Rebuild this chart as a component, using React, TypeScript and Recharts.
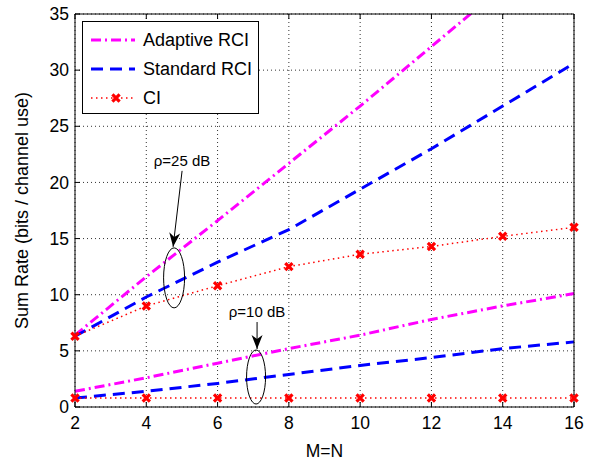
import React from 'react';
import { LineChart, Line, XAxis, YAxis, CartesianGrid, ReferenceDot } from 'recharts';

const mValues = [2, 4, 6, 8, 10, 12, 14, 16];
const adaptive25 = [6.4, 11.6, 16.6, 21.7, 26.8, 32.1, 37.4, 42.6];
const standard25 = [6.3, 9.8, 12.9, 15.8, 19.4, 23.0, 26.8, 30.6];
const ci25 = [6.3, 9.0, 10.8, 12.5, 13.6, 14.3, 15.2, 16.0];
const adaptive10 = [1.4, 2.6, 3.9, 5.2, 6.4, 7.8, 9.0, 10.1];
const standard10 = [0.8, 1.4, 2.1, 2.9, 3.7, 4.4, 5.2, 5.8];
const ci10 = [0.8, 0.8, 0.8, 0.8, 0.8, 0.8, 0.8, 0.8];
const yTicks = [0, 5, 10, 15, 20, 25, 30, 35];

const legendItems = ['Adaptive RCI', 'Standard RCI', 'CI'];
const annot25 = { x: 4.78, y: 11.5, label: 'ρ=25 dB' };
const annot10 = { x: 7.08, y: 2.67, label: 'ρ=10 dB' };

const rows = mValues.map((m, i) => ({
  m,
  a25: adaptive25[i],
  s25: standard25[i],
  c25: ci25[i],
  a10: adaptive10[i],
  s10: standard10[i],
  c10: ci10[i],
}));

const FONT = '"Liberation Sans", Arial, Helvetica, sans-serif';
const MAGENTA = '#ff00ff';
const BLUE = '#0000ff';
const RED = '#ff0000';
const DASHDOT = '10 4 2 4';
const DASHED = '12 7';
const DOTTED = '1.5 3.5';

const XMark = (props: any) => {
  const { cx, cy } = props;
  if (cx == null || cy == null) return <g />;
  const s = 3.6;
  return (
    <path
      key={`x-${cx}-${cy}`}
      d={`M${cx - s},${cy - s}L${cx + s},${cy + s}M${cx - s},${cy + s}L${cx + s},${cy - s}`}
      stroke={RED}
      strokeWidth={3.2}
      fill="none"
    />
  );
};

function arrowHead(tx: number, ty: number, sx: number, sy: number) {
  const ang = Math.atan2(ty - sy, tx - sx);
  const L = 14, W = 5.5, N = 10;
  const pts = [
    [0, 0],
    [-L, -W],
    [-N, 0],
    [-L, W],
  ].map(([px, py]) => [
    tx + px * Math.cos(ang) - py * Math.sin(ang),
    ty + px * Math.sin(ang) + py * Math.cos(ang),
  ]);
  return `M${pts.map((p) => p[0].toFixed(2) + ',' + p[1].toFixed(2)).join('L')}Z`;
}

const makeAnnotation = (
  label: string,
  rx: number,
  ry: number,
  tip: [number, number],
  start: [number, number],
  textPos: [number, number]
) => (props: any) => {
  const { cx, cy } = props;
  if (cx == null || cy == null) return <g />;
  const tx = cx + tip[0], ty = cy + tip[1];
  const sx = cx + start[0], sy = cy + start[1];
  return (
    <g>
      <ellipse cx={cx} cy={cy} rx={rx} ry={ry} fill="none" stroke="#000" strokeWidth={1} />
      <line x1={sx} y1={sy} x2={tx} y2={ty} stroke="#000" strokeWidth={1} />
      <path d={arrowHead(tx, ty, sx, sy)} fill="#000" />
      <text
        x={cx + textPos[0]}
        y={cy + textPos[1]}
        textAnchor="middle"
        fontFamily={FONT}
        fontSize={15}
        fill="#000"
      >
        {label}
      </text>
    </g>
  );
};

const Legend = () => (
  <div
    style={{
      position: 'absolute',
      left: 82,
      top: 21,
      width: 175,
      height: 91,
      border: '1px solid #000',
      background: '#fff',
    }}
  >
    <svg width={175} height={91} style={{ display: 'block' }}>
      <line x1={8} y1={18} x2={52} y2={18} stroke={MAGENTA} strokeWidth={3} strokeDasharray={DASHDOT} />
      <line x1={8} y1={47} x2={52} y2={47} stroke={BLUE} strokeWidth={3} strokeDasharray={DASHED} />
      <line x1={8} y1={76} x2={50} y2={76} stroke={RED} strokeWidth={1.5} strokeDasharray={DOTTED} />
      <path d="M29.4,72.4L36.6,79.6M29.4,79.6L36.6,72.4" stroke={RED} strokeWidth={3.2} />
      {legendItems.map((t, i) => (
        <text
          key={t}
          x={60}
          y={18 + i * 29}
          dominantBaseline="central"
          fontFamily={FONT}
          fontSize={18}
          fill="#000"
        >
          {t}
        </text>
      ))}
    </svg>
  </div>
);

const tickStyle = { fontFamily: FONT, fontSize: 17.5, fill: '#000' };

export default function App() {
  return (
    <div style={{ position: 'absolute', left: 0, top: 0, width: 597, height: 462, background: '#fff' }}>
      <LineChart width={597} height={462} data={rows} margin={{ top: 13, right: 22, bottom: 0, left: 0 }}>
        <CartesianGrid stroke="#333" strokeDasharray="1 3" strokeWidth={1} />
        <XAxis
          dataKey="m"
          type="number"
          domain={[2, 16]}
          ticks={mValues}
          height={55}
          tickSize={-5}
          tickMargin={15}
          tick={tickStyle}
          stroke="#000"
          axisLine={{ stroke: '#000' }}
          tickLine={{ stroke: '#000' }}
          label={{
            content: (p: any) => {
              const vb = p.viewBox || { x: 75, y: 407, width: 499 };
              return (
                <text
                  x={vb.x + vb.width / 2}
                  y={vb.y + 43.5}
                  textAnchor="middle"
                  dominantBaseline="central"
                  fontFamily={FONT}
                  fontSize={17.5}
                  fill="#000"
                >
                  M=N
                </text>
              );
            },
          }}
        />
        <XAxis
          xAxisId="top"
          orientation="top"
          dataKey="m"
          type="number"
          domain={[2, 16]}
          ticks={mValues}
          height={1}
          tickSize={-5}
          tickFormatter={() => ''}
          axisLine={{ stroke: '#000' }}
          tickLine={{ stroke: '#000' }}
        />
        <YAxis
          type="number"
          domain={[0, 35]}
          ticks={yTicks}
          allowDataOverflow
          width={75}
          tickSize={-5}
          tickMargin={11}
          tick={tickStyle}
          axisLine={{ stroke: '#000' }}
          tickLine={{ stroke: '#000' }}
          label={{
            content: (p: any) => {
              const vb = p.viewBox || { x: 0, y: 13, width: 75, height: 394 };
              const cy = vb.y + vb.height / 2;
              return (
                <text
                  x={21.5}
                  y={cy}
                  transform={`rotate(-90, 21.5, ${cy})`}
                  textAnchor="middle"
                  dominantBaseline="central"
                  fontFamily={FONT}
                  fontSize={18}
                  fill="#000"
                >
                  Sum Rate (bits / channel use)
                </text>
              );
            },
          }}
        />
        <YAxis
          yAxisId="right"
          orientation="right"
          type="number"
          domain={[0, 35]}
          ticks={yTicks}
          width={1}
          tickSize={-5}
          tickFormatter={() => ''}
          axisLine={{ stroke: '#000' }}
          tickLine={{ stroke: '#000' }}
        />
        <Line dataKey="a25" type="linear" stroke={MAGENTA} strokeWidth={3} strokeDasharray={DASHDOT} dot={false} isAnimationActive={false} />
        <Line dataKey="s25" type="linear" stroke={BLUE} strokeWidth={3} strokeDasharray={DASHED} dot={false} isAnimationActive={false} />
        <Line dataKey="c25" type="linear" stroke={RED} strokeWidth={1.5} strokeDasharray={DOTTED} dot={XMark} activeDot={false} isAnimationActive={false} />
        <Line dataKey="a10" type="linear" stroke={MAGENTA} strokeWidth={3} strokeDasharray={DASHDOT} dot={false} isAnimationActive={false} />
        <Line dataKey="s10" type="linear" stroke={BLUE} strokeWidth={3} strokeDasharray={DASHED} dot={false} isAnimationActive={false} />
        <Line dataKey="c10" type="linear" stroke={RED} strokeWidth={1.5} strokeDasharray={DOTTED} dot={XMark} activeDot={false} isAnimationActive={false} />
        <ReferenceDot
          x={annot25.x}
          y={annot25.y}
          r={0}
          ifOverflow="visible"
          shape={makeAnnotation(annot25.label, 10.5, 30, [-1, -31], [8, -107], [8, -112])}
        />
        <ReferenceDot
          x={annot10.x}
          y={annot10.y}
          r={0}
          ifOverflow="visible"
          shape={makeAnnotation(annot10.label, 9.5, 27, [1, -28], [1, -55], [1, -60])}
        />
      </LineChart>
      <Legend />
    </div>
  );
}
